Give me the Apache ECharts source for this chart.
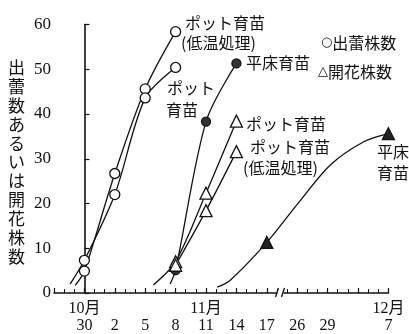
<!DOCTYPE html>
<html>
<head>
<meta charset="utf-8">
<script src="https://cdn.jsdelivr.net/npm/echarts@6/dist/echarts.min.js"></script>
<style>
  html, body { margin: 0; padding: 0; background: #fff; }
  #chart { width: 409px; height: 334px; }
</style>
</head>
<body>
<div id="chart"></div>
<script>
  // x = position along the axis (0 = 10月30 ... 10 = 12月7), axis is broken between 17 and 26
  var dayLabels = ['30', '2', '5', '8', '11', '14', '17', '26', '29', '', '7'];
  var monthLabels = {0: '10月', 4: '11月', 10: '12月'};
  var breakAt = [6.45];

  // 出蕾株数 (○ / ●)
  var budPotCold = [[0, 4.9], [1, 26.7], [2, 45.6], [3, 58.4]];
  var budPot = [[0, 7.3], [1, 22.0], [2, 43.6], [3, 50.4]];
  var budBed = [[3, 5.1], [4, 38.3], [5, 51.3]];
  // 開花株数 (△ / ▲)
  var flowerPot = [[3, 7.0], [4, 22.3], [5, 38.4]];
  var flowerPotCold = [[3, 6.2], [4, 18.4], [5, 31.6]];
  var flowerBed = [[6, 11.3], [10, 35.6]];

  // extra points where the hand-drawn curves run
  var curveBudPotCold = [[-0.3, 1.7]];
  var curveBudPot = [[-0.47, 2.0]];
  var curveBudBed = [[2.82, 2.0]];
  var curveFlowerPot = [[2.27, 1.8]];
  var curveFlowerPotCold = [];
  var curveFlowerBed = [[4.37, 1.3], [4.79, 2.8], [7.0, 19.8], [8.09, 28.6], [9.19, 33.8]];

  var FONT = "'Liberation Serif', 'Noto Sans CJK JP', serif";
  var CJK = "'Noto Sans CJK JP', sans-serif";
  var INK = '#111';

  function curve(marks, extra) {
    return marks.concat(extra).sort(function (a, b) { return a[0] - b[0]; });
  }

  function lineSeries(marks, extra) {
    return {
      type: 'line',
      data: curve(marks, extra),
      smooth: 0.3,
      showSymbol: false,
      silent: true,
      z: 2,
      lineStyle: {color: INK, width: 1.3}
    };
  }

  function markSeries(marks, symbol, size, fill) {
    return {
      type: 'scatter',
      data: marks,
      symbol: symbol,
      symbolSize: size,
      z: 3,
      itemStyle: {color: fill, borderColor: INK, borderWidth: 1.3, opacity: 1}
    };
  }

  var myChart = echarts.init(document.getElementById('chart'));

  function txt(x, y, s) {
    return {
      type: 'text', x: x, y: y,
      style: {
        text: s, font: '16px ' + CJK, fill: INK, verticalAlign: 'middle',
        rich: {k: {fontFamily: 'DejaVu Sans', fontSize: 13, fontWeight: 'bold', fill: INK}}
      }
    };
  }

  myChart.setOption({
    animation: false,
    grid: {left: 54, top: 24.5, width: 334.4, bottom: 38},
    xAxis: {
      type: 'value',
      min: -1,
      max: 10,
      interval: 1,
      splitLine: {show: false},
      axisLine: {lineStyle: {color: INK, width: 1.6}},
      axisTick: {inside: true, length: 5, lineStyle: {color: INK, width: 1.2}},
      minorTick: {show: true, splitNumber: 3, length: 4, lineStyle: {color: INK, width: 1}},
      axisLabel: {
        margin: 7,
        color: INK,
        fontFamily: FONT,
        fontSize: 16,
        lineHeight: 17,
        formatter: function (v) {
          if (v < 0) return '';
          var m = monthLabels[v] || ' ';
          return m + '\n' + (dayLabels[v] || ' ');
        }
      }
    },
    yAxis: {
      type: 'value',
      min: 0,
      max: 60,
      interval: 10,
      splitLine: {show: false},
      axisLine: {show: true, lineStyle: {color: INK, width: 1.6}},
      axisTick: {show: true, inside: true, length: 5, lineStyle: {color: INK, width: 1.2}},
      axisLabel: {margin: 3, color: INK, fontFamily: FONT, fontSize: 17}
    },
    graphic: [
      {
        type: 'text', x: 8, y: 58,
        style: {
          text: '出蕾数あるいは開花株数'.split('').join('\n'),
          font: '17px ' + CJK, lineHeight: 18.9, fill: INK
        }
      },
      txt(185, 23, 'ポット育苗'),
      txt(181, 43, '(低温処理)'),
      txt(246, 63, '平床育苗'),
      txt(321, 43, '{k|○}出蕾株数'),
      txt(318, 72, '{k|△}開花株数'),
      txt(167, 88, 'ポット'),
      txt(166, 110, '育苗'),
      txt(246, 124, 'ポット育苗'),
      txt(250, 147, 'ポット育苗'),
      txt(243, 168, '(低温処理)'),
      txt(377, 152, '平床'),
      txt(377, 173, '育苗')
    ],
    series: [
      lineSeries(budPotCold, curveBudPotCold),
      lineSeries(budPot, curveBudPot),
      lineSeries(budBed, curveBudBed),
      lineSeries(flowerPot, curveFlowerPot),
      lineSeries(flowerPotCold, curveFlowerPotCold),
      lineSeries(flowerBed, curveFlowerBed),
      markSeries(budPotCold, 'circle', 10, '#fff'),
      markSeries(budPot, 'circle', 10, '#fff'),
      markSeries(budBed, 'circle', 9, '#333'),
      markSeries(flowerPot, 'triangle', 12, '#fff'),
      markSeries(flowerPotCold, 'triangle', 12, '#fff'),
      markSeries(flowerBed, 'triangle', 12, '#222'),
      {
        // axis break mark "//"
        type: 'custom',
        data: breakAt.map(function (x) { return [x, 0]; }),
        silent: true,
        z: 5,
        renderItem: function (params, api) {
          var p = api.coord([api.value(0), api.value(1)]);
          return {
            type: 'group',
            children: [
              {type: 'rect', shape: {x: p[0] - 3, y: p[1] - 2, width: 6, height: 4}, style: {fill: '#fff'}},
              {type: 'line', shape: {x1: p[0] - 5, y1: p[1] + 4, x2: p[0] - 2, y2: p[1] - 5}, style: {stroke: INK, lineWidth: 1.3}},
              {type: 'line', shape: {x1: p[0] + 1, y1: p[1] + 4, x2: p[0] + 4, y2: p[1] - 5}, style: {stroke: INK, lineWidth: 1.3}}
            ]
          };
        }
      }
    ]
  });
  window.onresize = myChart.resize;
</script>
</body>
</html>
